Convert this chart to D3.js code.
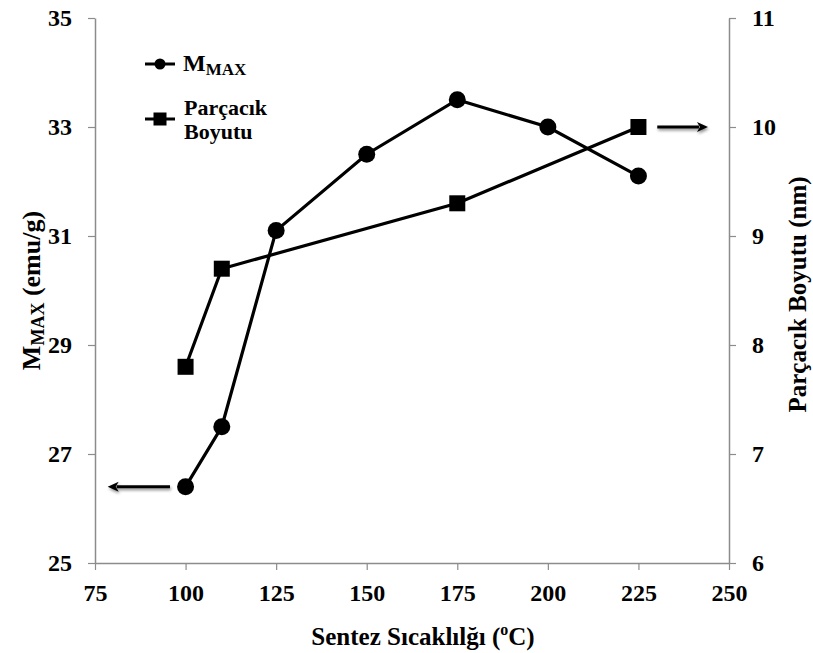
<!DOCTYPE html>
<html>
<head>
<meta charset="utf-8">
<script src="https://cdn.jsdelivr.net/npm/d3@7"></script>
<style>
  html, body { margin: 0; padding: 0; background: #fff; }
  svg { display: block; }
</style>
</head>
<body>
<svg id="chart" width="813" height="653"></svg>
<script>
// Synthesis temperature (°C)
const temperatures = [100, 110, 125, 150, 175, 200, 225];
// Maximum magnetisation (emu/g) at each temperature
const mmaxValues = [26.4, 27.5, 31.1, 32.5, 33.5, 33.0, 32.1];
// Particle size (nm), measured at a subset of temperatures
const sizeTemperatures = [100, 110, 175, 225];
const sizeValues = [7.8, 8.7, 9.3, 10.0];

const xTicks = [75, 100, 125, 150, 175, 200, 225, 250];
const leftTicks = [25, 27, 29, 31, 33, 35];
const rightTicks = [6, 7, 8, 9, 10, 11];

// Arrows pointing each series to its own axis: [x0, x1, y]
const leftArrow = [95.7, 78.5, 26.4];
const rightArrow = [230.2, 244.2, 10.0];

const FONT = "'Liberation Serif', 'Times New Roman', serif";

const svg = d3.select("#chart");
const plotLeft = 95, plotRight = 729, plotTop = 18, plotBottom = 563;

const x = d3.scaleLinear().domain([75, 250]).range([plotLeft, plotRight]);
const yL = d3.scaleLinear().domain([25, 35]).range([plotBottom, plotTop]);
const yR = d3.scaleLinear().domain([6, 11]).range([plotBottom, plotTop]);

const axisColor = "#8c8c8c";

function styleAxis(g) {
  g.attr("font-family", null).attr("font-size", null);
  g.selectAll("path.domain").attr("stroke", axisColor).attr("stroke-width", 1.5);
  g.selectAll(".tick line").attr("stroke", axisColor).attr("stroke-width", 1.2);
  g.selectAll(".tick text")
    .style("font-family", FONT)
    .style("font-weight", "bold")
    .style("font-size", "24px")
    .attr("fill", "#000");
}

svg.append("g")
  .attr("transform", `translate(0,${plotBottom})`)
  .call(d3.axisBottom(x).tickValues(xTicks).tickSize(7).tickSizeOuter(0).tickPadding(14))
  .call(styleAxis);

svg.append("g")
  .attr("transform", `translate(${plotLeft},0)`)
  .call(d3.axisLeft(yL).tickValues(leftTicks).tickSize(7).tickSizeOuter(0).tickPadding(16))
  .call(styleAxis);

svg.append("g")
  .attr("transform", `translate(${plotRight},0)`)
  .call(d3.axisRight(yR).tickValues(rightTicks).tickFormat(d3.format("d"))
    .tickSize(7).tickSizeOuter(0).tickPadding(16))
  .call(styleAxis);

function label(sel, size) {
  return sel.style("font-family", FONT).style("font-weight", "bold")
    .style("font-size", size + "px").attr("fill", "#000");
}

// Axis titles
const xTitle = label(svg.append("text"), 25)
  .attr("x", 423)
  .attr("y", 645)
  .attr("text-anchor", "middle");
xTitle.append("tspan").text("Sentez Sıcaklılğı (");
xTitle.append("tspan").style("font-size", "16px").attr("dy", -10).text("o");
xTitle.append("tspan").attr("dy", 10).text("C)");

const leftTitle = label(svg.append("text"), 26)
  .attr("transform", `translate(40,${(plotTop + plotBottom) / 2}) rotate(-90)`)
  .attr("text-anchor", "middle");
leftTitle.append("tspan").text("M");
leftTitle.append("tspan").style("font-size", "18px").attr("dy", 4).text("MAX");
leftTitle.append("tspan").attr("dy", -4).text(" (emu/g)");

label(svg.append("text"), 25)
  .attr("transform", `translate(806,${(plotTop + plotBottom) / 2 + 4}) rotate(-90)`)
  .attr("text-anchor", "middle")
  .text("Parçacık Boyutu (nm)");

// Series lines
const lineMmax = d3.line().x((d, i) => x(temperatures[i])).y(d => yL(d));
const lineSize = d3.line().x((d, i) => x(sizeTemperatures[i])).y(d => yR(d));

svg.append("path").datum(sizeValues)
  .attr("d", lineSize).attr("fill", "none").attr("stroke", "#000").attr("stroke-width", 3.2);
svg.append("path").datum(mmaxValues)
  .attr("d", lineMmax).attr("fill", "none").attr("stroke", "#000").attr("stroke-width", 3.2);

// Markers
const sq = 16;
svg.selectAll("rect.size").data(sizeValues).enter().append("rect")
  .attr("class", "size")
  .attr("x", (d, i) => x(sizeTemperatures[i]) - sq / 2)
  .attr("y", d => yR(d) - sq / 2)
  .attr("width", sq).attr("height", sq).attr("fill", "#000");

svg.selectAll("circle.mmax").data(mmaxValues).enter().append("circle")
  .attr("class", "mmax")
  .attr("cx", (d, i) => x(temperatures[i]))
  .attr("cy", d => yL(d))
  .attr("r", 8.5).attr("fill", "#000");

// Arrow annotations
const defs = svg.append("defs");
const shadow = defs.append("filter").attr("id", "soft").attr("x", "-20%").attr("y", "-100%").attr("width", "140%").attr("height", "300%");
shadow.append("feGaussianBlur").attr("in", "SourceAlpha").attr("stdDeviation", 1.6).attr("result", "b");
shadow.append("feOffset").attr("in", "b").attr("dx", 1).attr("dy", 2).attr("result", "o");
shadow.append("feComponentTransfer").attr("in", "o").attr("result", "s")
  .append("feFuncA").attr("type", "linear").attr("slope", 0.45);
const merge = shadow.append("feMerge");
merge.append("feMergeNode").attr("in", "s");
merge.append("feMergeNode").attr("in", "SourceGraphic");

function arrow(x0px, x1px, ypx) {
  const dir = Math.sign(x1px - x0px);
  const headLen = 11, headHalf = 5;
  const g = svg.append("g").attr("filter", "url(#soft)");
  g.append("line")
    .attr("x1", x0px).attr("y1", ypx)
    .attr("x2", x1px - dir * (headLen - 2)).attr("y2", ypx)
    .attr("stroke", "#000").attr("stroke-width", 3);
  g.append("path")
    .attr("d", `M${x1px},${ypx} L${x1px - dir * headLen},${ypx - headHalf} L${x1px - dir * (headLen - 3)},${ypx} L${x1px - dir * headLen},${ypx + headHalf} Z`)
    .attr("fill", "#000");
}
arrow(x(leftArrow[0]), x(leftArrow[1]), yL(leftArrow[2]));
arrow(x(rightArrow[0]), x(rightArrow[1]), yR(rightArrow[2]));

// Legend
const legend = svg.append("g");
legend.append("line").attr("x1", 145).attr("x2", 175).attr("y1", 64).attr("y2", 64)
  .attr("stroke", "#000").attr("stroke-width", 3);
legend.append("circle").attr("cx", 160).attr("cy", 64).attr("r", 5.5).attr("fill", "#000");
const lt = label(legend.append("text"), 24).attr("x", 183).attr("y", 71);
lt.append("tspan").text("M");
lt.append("tspan").style("font-size", "17px").attr("dy", 4).text("MAX");

legend.append("line").attr("x1", 145).attr("x2", 175).attr("y1", 119).attr("y2", 119)
  .attr("stroke", "#000").attr("stroke-width", 3);
legend.append("rect").attr("x", 153.5).attr("y", 112.5).attr("width", 13).attr("height", 13).attr("fill", "#000");
label(legend.append("text"), 22).attr("x", 184).attr("y", 115).text("Parçacık");
label(legend.append("text"), 22).attr("x", 184).attr("y", 139).text("Boyutu");
</script>
</body>
</html>
